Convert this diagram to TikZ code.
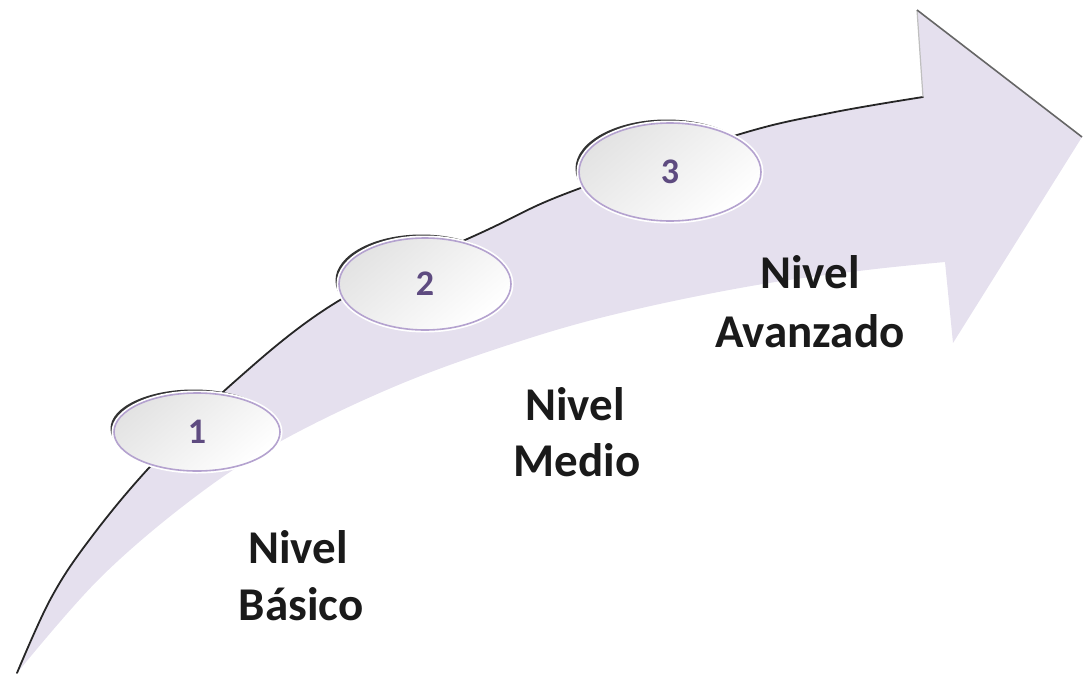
\documentclass[tikz,border=0pt]{standalone}
\usepackage{fontspec}
\setmainfont{Carlito}
\usetikzlibrary{shapes.geometric,shadows}
\definecolor{bandcol}{HTML}{E5E0EE}
\definecolor{ringcol}{HTML}{B4A2CF}
\definecolor{numcol}{HTML}{5E4B80}
\definecolor{txtcol}{HTML}{1A1A1A}
\tikzset{
  band/.style={fill=bandcol, draw=none},
  edge/.style={draw=black!85, line width=1.8pt, line cap=round},
  stepell/.style={ellipse, draw=ringcol, line width=1.6pt,
    top color=black!11, bottom color=white, shading angle=40,
    drop shadow={shadow xshift=-3.5pt, shadow yshift=3.5pt, fill=black!80, opacity=1},
    preaction={draw=white, line width=5pt},
    text=numcol, font=\bfseries\fontsize{36}{40}\selectfont, inner sep=0pt},
  lbl/.style={anchor=base, text=txtcol, font=\bfseries\fontsize{47}{57}\selectfont, inner sep=0pt}
}
\begin{document}
\begin{tikzpicture}[x=1pt,y=-1pt]
\useasboundingbox (0,0) rectangle (1083,677);
% band with arrow head
\fill[band] plot[smooth, tension=0.6] coordinates {(17,673) (50,600) (87,543) (147,470) (233,383) (340,300) (487,230) (570,192) (737,135) (830,113) (923,97)}
  -- (917,10) -- (1082,137) -- (953,343)
  -- plot[smooth, tension=0.6] coordinates {(945,262) (867,270) (757,285) (633,310) (530,338) (403,383) (283,440) (195,497) (100,578) (17,673)} -- cycle;
\coordinate (tail) at (17,673);
\coordinate (neck) at (923,97);
\coordinate (headtop) at (917,10);
\coordinate (tip) at (1082,137);
\draw[edge] plot[smooth, tension=0.6] coordinates {(17,673) (50,600) (87,543) (147,470) (233,383) (340,300) (487,230) (570,192) (737,135) (830,113) (923,97)};
\draw[draw=black!25, line width=1.2pt] (neck) -- (headtop);
\draw[draw=black!60, line width=1.6pt] (headtop) -- (tip);
% steps
\node[stepell, minimum width=166pt, minimum height=78pt] (e1) at (197,432) {1};
\node[stepell, minimum width=172pt, minimum height=92pt] (e2) at (425,284) {2};
\node[stepell, minimum width=182pt, minimum height=98pt] (e3) at (670,172) {3};
% labels
\node[lbl] (b1) at (298,563) {Nivel};
\node[lbl] (b2) at (301,620) {Básico};
\node[lbl] (m1) at (575,420) {Nivel};
\node[lbl] (m2) at (577,476) {Medio};
\node[lbl] (a1) at (810,288) {Nivel};
\node[lbl] (a2) at (810,347) {Avanzado};
\end{tikzpicture}
\end{document}
